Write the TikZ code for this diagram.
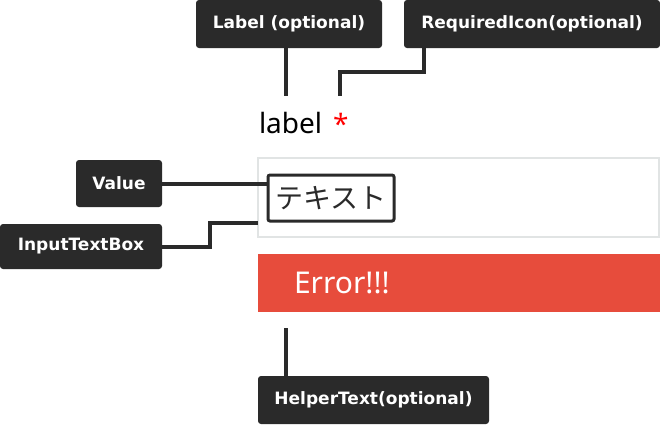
\documentclass[tikz,border=0pt]{standalone}
\usepackage{fontspec}
\setmainfont{Noto Sans}
\newfontfamily\jpfont{Noto Sans CJK JP}
\newfontfamily\tagfont{DejaVu Sans Bold}
\usepackage{xcolor}
\usetikzlibrary{positioning}
\definecolor{tagdark}{HTML}{2A2A2A}
\definecolor{errred}{HTML}{E74C3C}
\definecolor{boxgrey}{HTML}{E1E4E4}

\begin{document}
\begin{tikzpicture}[
  x=1pt,y=-1pt,
  every node/.style={inner sep=0pt,outer sep=0pt},
  tag/.style={fill=tagdark,rounded corners=3pt,text=white,
              font=\tagfont\fontsize{17}{20}\selectfont,align=center},
  link/.style={draw=tagdark,line width=4pt},
  ui/.style={font=\fontsize{28}{32}\selectfont}
]
\useasboundingbox (0,0) rectangle (660,424);

%% annotation tags
\node[tag,minimum width=186pt,minimum height=48pt] (lbltag)  at (289,24)    {Label (optional)};
\node[tag,minimum width=256pt,minimum height=48pt] (reqtag)  at (532,24)    {RequiredIcon(optional)};
\node[tag,minimum width=86pt,minimum height=47pt]  (valtag)  at (119,183.5) {Value};
\node[tag,minimum width=162pt,minimum height=45pt] (inptag)  at (81,246.5)  {InputTextBox};
\node[tag,minimum width=231pt,minimum height=48pt] (helptag) at (373.5,400) {HelperText(optional)};

%% form field
\node[ui,anchor=base west] (lbl) at (259,133) {label};
\node[ui,anchor=base west,text=red] (req) at (333,134) {*};
\node[draw=boxgrey,line width=2pt,fill=white,minimum width=401pt,minimum height=79pt] (inp) at (458.5,197.5) {};
\node[draw=tagdark,line width=3pt,rounded corners=2pt,minimum width=126pt,minimum height=46pt,
      font=\jpfont\fontsize{28}{32}\selectfont,text=tagdark] (val) at (331,198) {テキスト};
\node[fill=errred,minimum width=402pt,minimum height=58pt] (err) at (459,283) {};
\node[ui,text=white,anchor=base west,font=\fontsize{30}{34}\selectfont] (errtxt) at (294,293) {Error!!!};

%% connectors
\coordinate (lblend)  at (286,96);
\coordinate (reqend)  at (340,96);
\coordinate (helpend) at (286,328);
\draw[link] (lbltag.south -| lblend) -- (lblend);
\draw[link] (423.5,48) -- (423.5,72) -| (reqend);
\draw[link] (valtag.east) -- (valtag.east -| val.west);
\draw[link] (inptag.east) -- (210,246.5) |- (inp.west |- 0,223);
\draw[link] (helptag.north -| helpend) -- (helpend);

\end{tikzpicture}
\end{document}
